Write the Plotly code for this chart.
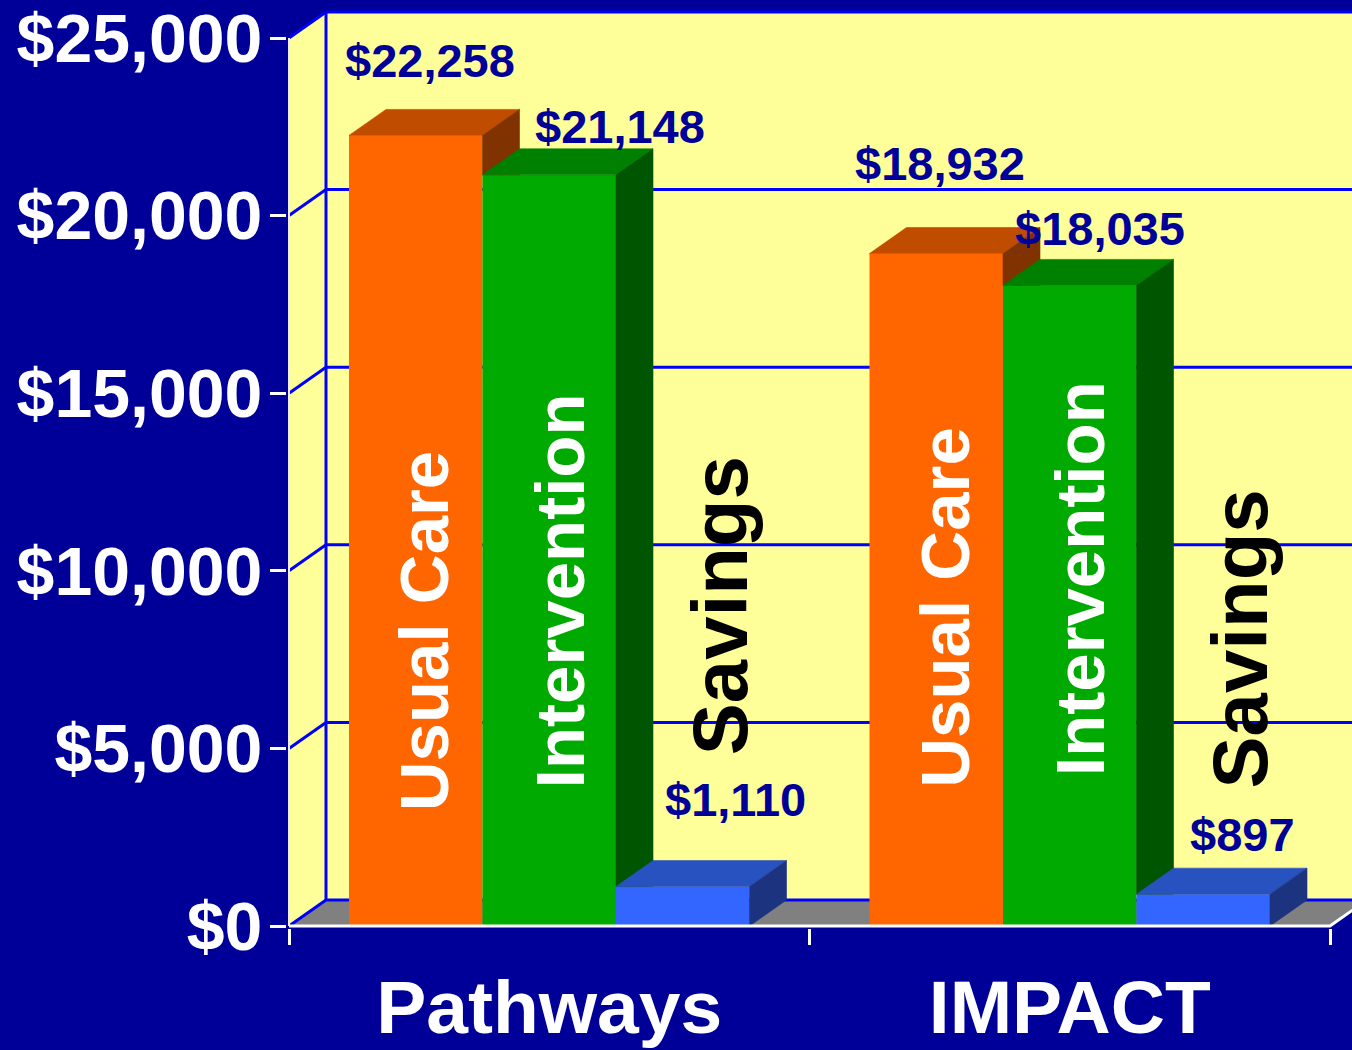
import plotly.graph_objects as go

# ---------------- data ----------------
categories = ["Pathways", "IMPACT"]
series_names = ["Usual Care", "Intervention", "Savings"]
usual_care = [22258, 18932]
intervention = [21148, 18035]
savings = [1110, 897]
y_tick_values = [0, 5000, 10000, 15000, 20000, 25000]
y_tick_labels = ["$0", "$5,000", "$10,000", "$15,000", "$20,000", "$25,000"]

# ---------------- styles ----------------
FONT = "Liberation Sans, Arial, sans-serif"
NAVY = "#000099"
WALL = "#FFFF99"
FLOOR = "#808080"
GRID = "#0000FF"
front_colors = ["#FF6600", "#00AA00", "#3366FF"]
top_colors = ["#C04C00", "#008000", "#2852C0"]
side_colors = ["#803300", "#005500", "#1C3480"]
inner_text_colors = ["white", "white", "black"]
inner_text_sizes = [69, 69, 78]
inner_text_xshift = [9, 11, 37]            # px, per series
inner_text_y = [[8319, 9431, 9023],        # label centre along value axis, per category
                [8967, 9789, 8074]]
value_xshift = [[14, 71, 53], [4, 30, 39]]  # px
value_yshift = [[75, 48, 87], [90, 57, 60]]  # px

W, H = 1352, 1050
L, R, T, B = 287, 0, 0, 122
PX_PER_CAT = 520.5
PX_PER_USD = 888 / 25000
BARGAP = 0.2305
DX = 37 / PX_PER_CAT
DY = 26 / PX_PER_USD

x_lo = -0.5 - (289 - L) / PX_PER_CAT
x_hi = x_lo + (W - L - R) / PX_PER_CAT
y_lo = -(H - B - 926) / PX_PER_USD
y_hi = y_lo + (H - B - T) / PX_PER_USD

series = [usual_care, intervention, savings]
n_ser = len(series)
bw = (1 - BARGAP) / n_ser
xpos = list(range(len(categories)))

fig = go.Figure()

# front faces
for j, vals in enumerate(series):
    fig.add_trace(go.Bar(
        x=xpos, y=vals, name=series_names[j],
        marker=dict(color=front_colors[j], line=dict(width=0)),
        hoverinfo="skip", showlegend=False))


def left_edge(i, j):
    return i - (1 - BARGAP) / 2 + j * bw


def poly_trace(xs, ys, color):
    return go.Scatter(x=xs, y=ys, mode="lines", fill="toself",
                      fillcolor=color, line=dict(color=color, width=0.6),
                      hoverinfo="skip", showlegend=False)


# top and side faces (3-D look)
for j, vals in enumerate(series):
    tx, ty, sx, sy = [], [], [], []
    for i, v in enumerate(vals):
        xl = left_edge(i, j)
        xr = xl + bw
        tx += [xl, xr, xr + DX, xl + DX, xl, None]
        ty += [v, v, v + DY, v + DY, v, None]
        if j < n_ser - 1:
            vn = series[j + 1][i]
            sx += [xr, xr + DX, xr + DX, xr, xr, None]
            sy += [vn, vn, v + DY, v, vn, None]
        else:
            sx += [xr, xr + DX, xr + DX, xr, xr, None]
            sy += [0, DY, v + DY, v, 0, None]
    fig.add_trace(poly_trace(tx, ty, top_colors[j]))
    fig.add_trace(poly_trace(sx, sy, side_colors[j]))

# walls, floor, gridlines
shapes = []
xa, xb = -0.5, len(categories) - 0.5
top = y_tick_values[-1]
shapes.append(dict(type="rect", xref="x", yref="y", x0=xa + DX, x1=xb + DX,
                   y0=DY, y1=top + DY, fillcolor=WALL, line=dict(width=0), layer="below"))
shapes.append(dict(type="path", xref="x", yref="y",
                   path=f"M{xa},0 L{xa + DX},{DY} L{xa + DX},{top + DY} L{xa},{top} Z",
                   fillcolor=WALL, line=dict(width=0), layer="below"))
shapes.append(dict(type="path", xref="x", yref="y",
                   path=f"M{xa},0 L{xb},0 L{xb + DX},{DY} L{xa + DX},{DY} Z",
                   fillcolor=FLOOR, line=dict(width=0), layer="below"))
for v in y_tick_values:
    shapes.append(dict(type="line", xref="x", yref="y", x0=xa + DX, x1=xb + DX,
                       y0=v + DY, y1=v + DY, line=dict(color=GRID, width=3), layer="below"))
    shapes.append(dict(type="line", xref="x", yref="y", x0=xa, x1=xa + DX,
                       y0=v, y1=v + DY, line=dict(color=GRID, width=3), layer="below"))
shapes.append(dict(type="line", xref="x", yref="y", x0=xa + DX, x1=xa + DX,
                   y0=DY, y1=top + DY, line=dict(color=GRID, width=3), layer="below"))
# front axis lines
shapes.append(dict(type="line", xref="x", yref="y", x0=xa, x1=xa, y0=0, y1=top,
                   line=dict(color="#EEEEFF", width=2), layer="above"))
shapes.append(dict(type="path", xref="x", yref="y",
                   path=f"M{xa},0 L{xb},0 L{xb + DX},{DY}",
                   line=dict(color="white", width=3), layer="above"))

annotations = []
for i in xpos:
    for j, vals in enumerate(series):
        xc = left_edge(i, j) + bw / 2
        annotations.append(dict(
            x=xc, y=inner_text_y[i][j], xref="x", yref="y",
            text=series_names[j], textangle=-90, showarrow=False,
            xanchor="center", yanchor="middle", xshift=inner_text_xshift[j],
            font=dict(family=FONT, size=inner_text_sizes[j],
                      color=inner_text_colors[j], weight="bold")))
        annotations.append(dict(
            x=xc, y=vals[i], xref="x", yref="y",
            text=f"${vals[i]:,}", showarrow=False,
            xanchor="center", yanchor="middle",
            xshift=value_xshift[i][j], yshift=value_yshift[i][j],
            font=dict(family=FONT, size=47, color=NAVY, weight="bold")))

fig.update_layout(
    width=W, height=H,
    margin=dict(l=L, r=R, t=T, b=B, pad=0, autoexpand=False),
    paper_bgcolor=NAVY, plot_bgcolor=NAVY,
    barmode="group", bargap=BARGAP, bargroupgap=0,
    showlegend=False, hovermode=False,
    shapes=shapes, annotations=annotations,
    xaxis=dict(range=[x_lo, x_hi], tickvals=xpos, ticktext=categories,
               ticks="", showgrid=False, zeroline=False, showline=False,
               automargin=False, ticklabeloverflow="allow",
               ticklabelstandoff=29,
               tickfont=dict(family=FONT, size=75, color="white", weight="bold"),
               minor=dict(tickvals=[xa + k for k in range(len(categories) + 1)],
                          ticks="outside", ticklen=16, tickwidth=3,
                          tickcolor="white", showgrid=False)),
    yaxis=dict(range=[y_lo, y_hi], tickvals=y_tick_values, ticktext=y_tick_labels,
               ticks="outside", ticklen=16, tickwidth=3, tickcolor="white",
               ticklabelstandoff=-6, automargin=False, ticklabeloverflow="allow",
               showgrid=False, zeroline=False, showline=False,
               tickfont=dict(family=FONT, size=68, color="white", weight="bold")),
)

fig.write_html(
    "out.html",
    config={"displayModeBar": False},
    post_script="document.body.style.margin='0';document.body.style.overflow='hidden';"
                "document.body.style.background='" + NAVY + "';",
)
